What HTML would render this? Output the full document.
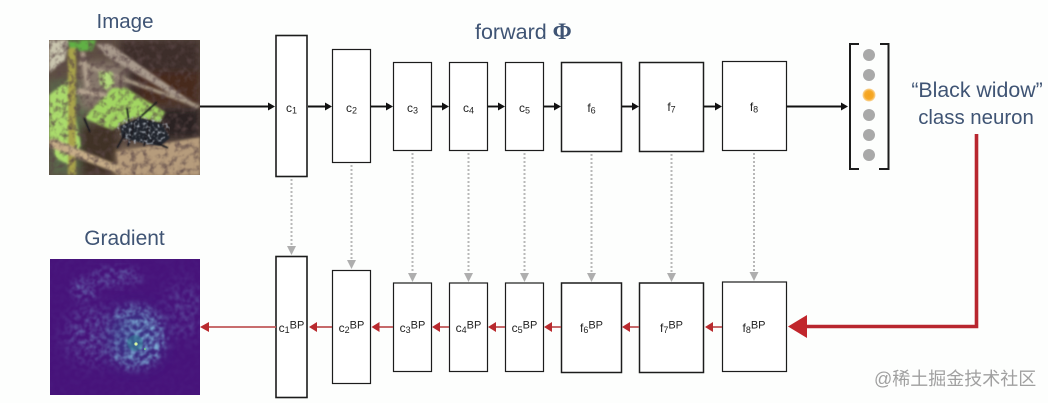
<!DOCTYPE html>
<html><head><meta charset="utf-8">
<style>
html,body{margin:0;padding:0;background:#fdfefd;width:1048px;height:403px;overflow:hidden}
svg{display:block}
.t{font-family:"Liberation Sans",sans-serif;fill:#3f5474}
.l{font-family:"Liberation Sans",sans-serif;fill:#222;font-size:12px;text-anchor:middle}
.l tspan.s{font-size:9px}
.l tspan.b{font-size:11px}
</style></head><body>
<svg width="1048" height="403" viewBox="0 0 1048 403" xmlns="http://www.w3.org/2000/svg">
<defs>
<filter id="b1" x="-10%" y="-10%" width="120%" height="120%"><feGaussianBlur stdDeviation="1.200"/></filter>
<filter id="b0" x="-5%" y="-5%" width="110%" height="110%"><feGaussianBlur stdDeviation="0.7"/></filter>
<filter id="b2" x="-20%" y="-20%" width="140%" height="140%"><feGaussianBlur stdDeviation="4"/></filter>
<filter id="b3" x="-30%" y="-30%" width="160%" height="160%"><feGaussianBlur stdDeviation="9"/></filter>
<filter id="noise" x="0" y="0" width="100%" height="100%"><feTurbulence type="fractalNoise" baseFrequency="0.2" numOctaves="2" seed="4"/><feColorMatrix values="0 0 0 0 .2  0 0 0 0 .42  0 0 0 0 .66  2.200 0 0 0 -.78"/><feGaussianBlur stdDeviation="0.8"/></filter>
<filter id="noise2" x="0" y="0" width="100%" height="100%"><feTurbulence type="fractalNoise" baseFrequency="0.16" numOctaves="3" seed="9"/><feColorMatrix values="0 0 0 0 .1  0 0 0 0 .06  0 0 0 0 .06  2.600 0 0 0 -1.150"/><feGaussianBlur stdDeviation="0.6"/></filter>
<filter id="speck" x="0" y="0" width="100%" height="100%"><feTurbulence type="fractalNoise" baseFrequency="0.35" numOctaves="2" seed="3"/><feColorMatrix values="0 0 0 0 .5  0 0 0 0 .54  0 0 0 0 .6  3 0 0 0 -1.500"/><feGaussianBlur stdDeviation="0.5"/></filter>
<clipPath id="c1"><rect x="49" y="40" width="151" height="135"/></clipPath>
<clipPath id="c2"><rect x="50" y="259" width="150" height="136"/></clipPath>
<radialGradient id="spot"><stop offset="0" stop-color="#f4a21c"/><stop offset=".65" stop-color="#f6a928"/><stop offset="1" stop-color="#fbd9a0"/></radialGradient>
<mask id="gm"><rect x="50" y="259" width="150" height="136" fill="#0a0a0a"/><ellipse cx="135" cy="337" rx="32" ry="32" fill="#fff" filter="url(#b2)"/><ellipse cx="85" cy="289" rx="14" ry="11" fill="#888" filter="url(#b2)"/><ellipse cx="115" cy="277" rx="28" ry="10" fill="#777" filter="url(#b2)"/><ellipse cx="95" cy="335" rx="30" ry="28" fill="#777" filter="url(#b3)"/><ellipse cx="185" cy="310" rx="20" ry="30" fill="#555" filter="url(#b3)"/></mask>
<mask id="sm"><ellipse cx="143" cy="130" rx="27" ry="15" fill="#fff" filter="url(#b0)"/></mask>
</defs>

<!-- photo -->
<g clip-path="url(#c1)">
<rect x="49" y="40" width="151" height="135" fill="#5e4e44"/>
<g filter="url(#b2)">
<rect x="120" y="40" width="80" height="62" fill="#3d2e29"/>
<rect x="140" y="72" width="60" height="32" fill="#46291f"/>
<rect x="49" y="80" width="40" height="95" fill="#5a684c"/>
<rect x="80" y="62" width="46" height="46" fill="#87786c"/>
<rect x="113" y="150" width="87" height="28" fill="#a88f70"/>
<rect x="80" y="125" width="38" height="50" fill="#3f3028"/>
<rect x="158" y="108" width="42" height="30" fill="#2a2120"/>
</g>
<g filter="url(#b1)">
<path d="M49 40H68L65 60 49 73Z" fill="#c9c5ae"/>
<path d="M68 40H96L92 51H70Z" fill="#61b145"/>
<path d="M96 44 L110 44 L198 106 196 109 L106 56Z" fill="#a89a8c"/>
<path d="M80 61 L200 105 L198 108 L78 65Z" fill="#a39482"/>
<path d="M49 95 L68 80 76 120 81 145 68 165 56 158 49 140Z" fill="#aadb6c"/>
<rect x="68" y="48" width="8" height="127" fill="#a8a34c"/>
<path d="M84 118 L112 88 126 88 140 97 165 112 160 122 135 117 112 130Z" fill="#a2d662"/>
<path d="M99 72 L112 72 114 84 106 90 100 84Z" fill="#b4dc7c"/>
<path d="M49 140 L54 139 142 175 H122 L49 147Z" fill="#c6ad88"/>
<path d="M80 52 L85 52 90 88 86 88Z" fill="#b0a08e"/>
<path d="M78 88 L108 94 106 97 76 94Z" fill="#b3a28f"/>
<path d="M116 152 L150 146 200 137 V175 H120Z" fill="#b69c7b"/>
</g>
<rect x="49" y="40" width="151" height="135" filter="url(#noise2)" opacity=".8"/>
<g filter="url(#b0)">
<path d="M120 126 L140 118 162 124 170 138 160 146 138 142 122 138Z" fill="#23262e"/>
<path d="M127 108 L129 122M157 102 L137 120M126 132 L117 148M150 140 L168 148M84 118 L90 132M135 120L128 146M150 120L144 146" stroke="#14161a" stroke-width="1.600" fill="none"/>
</g>
<rect x="116" y="115" width="54" height="30" filter="url(#speck)" mask="url(#sm)"/>
</g>

<!-- gradient map -->
<rect x="50" y="259" width="150" height="136" fill="#47137a"/>
<g clip-path="url(#c2)">
<ellipse cx="135" cy="337" rx="26" ry="28" fill="#33508f" opacity=".55" filter="url(#b3)"/>
<rect x="50" y="259" width="150" height="136" filter="url(#noise)" mask="url(#gm)"/>
<ellipse cx="135" cy="343" rx="8" ry="8" fill="#2f8f96" opacity=".45" filter="url(#b0)"/>
<circle cx="136" cy="344" r="1.600" fill="#d8f5a0"/>
<circle cx="145" cy="349" r="1" fill="#6fcf8a"/>
</g>

<!-- top boxes -->
<g fill="#fff" stroke="#1c1c1c" stroke-width="1.200">
<rect x="276" y="35.500" width="31" height="141" stroke-width="1.600"/>
<rect x="332.500" y="49.500" width="38" height="113"/>
<rect x="393.500" y="62.500" width="38" height="88"/>
<rect x="449.500" y="62.500" width="38" height="88"/>
<rect x="505.500" y="62.500" width="38" height="88"/>
<rect x="561.500" y="62.500" width="60" height="89" stroke-width="1.500"/>
<rect x="639.500" y="62.500" width="64" height="89" stroke-width="1.500"/>
<rect x="722.500" y="61.500" width="64" height="89"/>
</g>
<!-- bottom boxes -->
<g fill="#fff" stroke="#1c1c1c" stroke-width="1.200">
<rect x="276" y="256.500" width="31" height="141" stroke-width="1.600"/>
<rect x="332.500" y="270.500" width="38" height="113"/>
<rect x="393.500" y="283" width="38" height="88.500"/>
<rect x="449.500" y="283" width="38" height="88.500"/>
<rect x="505.500" y="283" width="38" height="88.500"/>
<rect x="561.500" y="283" width="60" height="89.500" stroke-width="1.500"/>
<rect x="639.500" y="283" width="64" height="89.500" stroke-width="1.500"/>
<rect x="722.500" y="282" width="64" height="89.500"/>
</g>

<!-- forward arrows -->
<g stroke="#111" stroke-width="1.900">
<line x1="200" y1="106.500" x2="270" y2="106.500"/>
<line x1="308" y1="106.500" x2="326" y2="106.500"/>
<line x1="371" y1="106.500" x2="387" y2="106.500"/>
<line x1="432" y1="106.500" x2="443" y2="106.500"/>
<line x1="488" y1="106.500" x2="499" y2="106.500"/>
<line x1="544" y1="106.500" x2="555" y2="106.500"/>
<line x1="622" y1="106.500" x2="633" y2="106.500"/>
<line x1="704" y1="106.500" x2="716" y2="106.500"/>
<line x1="787" y1="106.500" x2="842" y2="106.500"/>
</g>
<g fill="#111">
<path d="M275 106.500l-7-4v8z"/><path d="M332 106.500l-7-4v8z"/><path d="M393 106.500l-7-4v8z"/><path d="M449 106.500l-7-4v8z"/><path d="M505 106.500l-7-4v8z"/><path d="M561 106.500l-7-4v8z"/><path d="M639 106.500l-7-4v8z"/><path d="M722 106.500l-7-4v8z"/><path d="M848 106.500l-7-4v8z"/>
</g>

<!-- dotted down arrows -->
<g stroke="#b8b8b8" stroke-width="2" stroke-dasharray="2 2">
<line x1="291.500" y1="179" x2="291.500" y2="246"/>
<line x1="351.500" y1="165" x2="351.500" y2="260"/>
<line x1="412.500" y1="153" x2="412.500" y2="273"/>
<line x1="468.500" y1="153" x2="468.500" y2="273"/>
<line x1="524.500" y1="153" x2="524.500" y2="273"/>
<line x1="591.500" y1="154" x2="591.500" y2="273"/>
<line x1="671.500" y1="154" x2="671.500" y2="273"/>
<line x1="754" y1="153" x2="754" y2="272"/>
</g>
<g fill="#aeaeae">
<path d="M291.500 255l-4.500-9h9z"/><path d="M351.500 269l-4.500-9h9z"/><path d="M412.500 282l-4.500-9h9z"/><path d="M468.500 282l-4.500-9h9z"/><path d="M524.500 282l-4.500-9h9z"/><path d="M591.500 282l-4.500-9h9z"/><path d="M671.500 282l-4.500-9h9z"/><path d="M754 281l-4.500-9h9z"/>
</g>

<!-- back arrows -->
<g stroke="#c0585a" stroke-width="1.800">
<line x1="208" y1="327" x2="276" y2="327"/>
<line x1="316" y1="327" x2="332" y2="327"/>
<line x1="379" y1="327" x2="393" y2="327"/>
<line x1="439" y1="327" x2="449" y2="327"/>
<line x1="495" y1="327" x2="505" y2="327"/>
<line x1="551" y1="327" x2="561" y2="327"/>
<line x1="630" y1="327" x2="639" y2="327"/>
<line x1="712" y1="327" x2="722" y2="327"/>
</g>
<g fill="#b92a2e">
<path d="M200 327l9-5v10z"/><path d="M309 327l8-5v10z"/><path d="M371.500 327l8-5v10z"/><path d="M432 327l8-5v10z"/><path d="M488 327l8-5v10z"/><path d="M544 327l8-5v10z"/><path d="M622 327l8-5v10z"/><path d="M705 327l8-5v10z"/>
</g>

<!-- big red connector -->
<path d="M976.500 134V326.500H806" fill="none" stroke="#b8262f" stroke-width="3.600"/>
<path d="M788 326.500L807 315V338Z" fill="#c1262c"/>

<!-- output vector -->
<g fill="none" stroke="#1c1c1c" stroke-width="2">
<path d="M859 44H850V169H859"/>
<path d="M880 44H888.500V169H879"/>
</g>
<g fill="#a9a9a9">
<circle cx="869" cy="55" r="6"/><circle cx="869" cy="75" r="6"/><circle cx="869" cy="115" r="6"/><circle cx="869" cy="135" r="6"/><circle cx="869" cy="155" r="6"/>
</g>
<circle cx="869" cy="95" r="6.500" fill="url(#spot)"/>

<!-- titles -->
<text class="t" x="125" y="28" font-size="20.500" text-anchor="middle">Image</text>
<text class="t" x="124.500" y="245" font-size="21" text-anchor="middle">Gradient</text>
<text class="t" x="475" y="39" font-size="21.500">forward <tspan font-family="Liberation Serif" font-weight="bold" font-size="23">Φ</tspan></text>
<text class="t" x="977" y="97" font-size="21.300" text-anchor="middle">“Black widow”</text>
<text class="t" x="976" y="124" font-size="20.400" text-anchor="middle">class neuron</text>

<!-- box labels -->
<text class="l" x="291.500" y="112">c<tspan class="s" dy="1.500">1</tspan></text>
<text class="l" x="351.500" y="112">c<tspan class="s" dy="1.500">2</tspan></text>
<text class="l" x="412.500" y="112">c<tspan class="s" dy="1.500">3</tspan></text>
<text class="l" x="468.500" y="112">c<tspan class="s" dy="1.500">4</tspan></text>
<text class="l" x="524.500" y="112">c<tspan class="s" dy="1.500">5</tspan></text>
<text class="l" x="591.500" y="112">f<tspan class="s" dy="1.500">6</tspan></text>
<text class="l" x="671.500" y="111">f<tspan class="s" dy="1.500">7</tspan></text>
<text class="l" x="754" y="111">f<tspan class="s" dy="1.500">8</tspan></text>

<text class="l" x="291.500" y="332">c<tspan class="s" dy="1">1</tspan><tspan class="b" dy="-4.500">BP</tspan></text>
<text class="l" x="351.500" y="332">c<tspan class="s" dy="1">2</tspan><tspan class="b" dy="-4.500">BP</tspan></text>
<text class="l" x="412.500" y="332">c<tspan class="s" dy="1">3</tspan><tspan class="b" dy="-4.500">BP</tspan></text>
<text class="l" x="468.500" y="332">c<tspan class="s" dy="1">4</tspan><tspan class="b" dy="-4.500">BP</tspan></text>
<text class="l" x="524.500" y="332">c<tspan class="s" dy="1">5</tspan><tspan class="b" dy="-4.500">BP</tspan></text>
<text class="l" x="591.500" y="332">f<tspan class="s" dy="1">6</tspan><tspan class="b" dy="-4.500">BP</tspan></text>
<text class="l" x="671.500" y="332">f<tspan class="s" dy="1">7</tspan><tspan class="b" dy="-4.500">BP</tspan></text>
<text class="l" x="754" y="332">f<tspan class="s" dy="1">8</tspan><tspan class="b" dy="-4.500">BP</tspan></text>

<!-- watermark -->
<text x="874" y="385" font-size="18" fill="#a0a0a0" font-family="'Liberation Sans','Noto Sans CJK SC',sans-serif">@稀土掘金技术社区</text>
</svg>
</body></html>
